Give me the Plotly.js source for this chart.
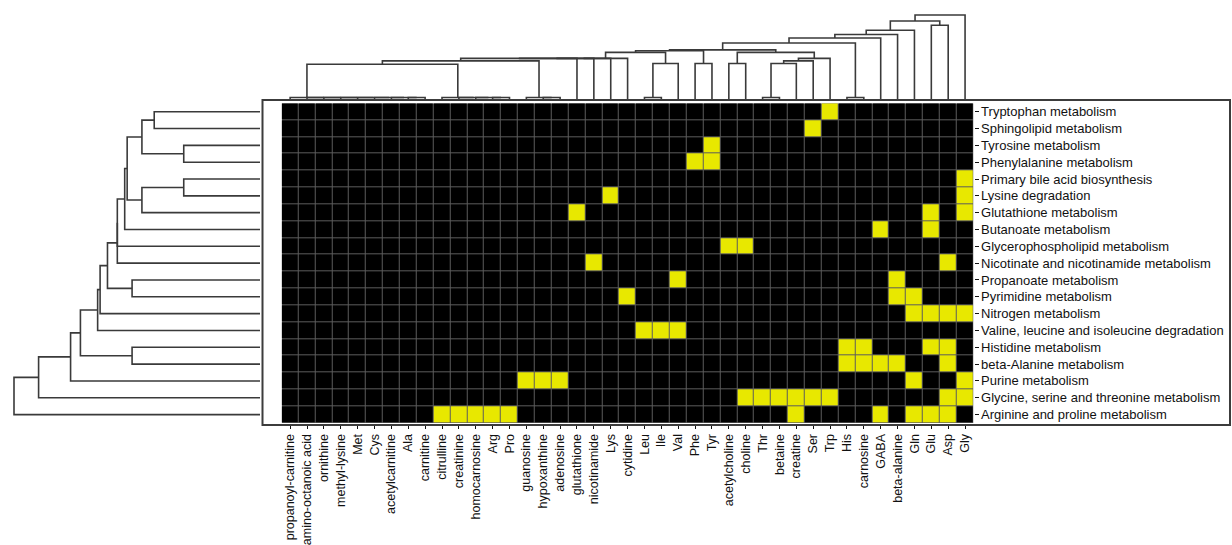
<!DOCTYPE html>
<html>
<head>
<meta charset="utf-8">
<script src="https://cdn.plot.ly/plotly-3.0.1.min.js"></script>
<style>
html,body{margin:0;padding:0;background:#fff;}
#chart{width:1232px;height:545px;}
</style>
</head>
<body>
<div id="chart"></div>
<script>
// ---- data ----
const metabolites = ["propanoyl-carnitine","amino-octanoic acid","ornithine","methyl-lysine","Met","Cys",
  "acetylcarnitine","Ala","carnitine","citrulline","creatinine","homocarnosine","Arg","Pro","guanosine",
  "hypoxanthine","adenosine","glutathione","nicotinamide","Lys","cytidine","Leu","Ile","Val","Phe","Tyr",
  "acetylcholine","choline","Thr","betaine","creatine","Ser","Trp","His","carnosine","GABA","beta-alanine",
  "Gln","Glu","Asp","Gly"];

const pathways = ["Tryptophan metabolism","Sphingolipid metabolism","Tyrosine metabolism",
  "Phenylalanine metabolism","Primary bile acid biosynthesis","Lysine degradation","Glutathione metabolism",
  "Butanoate metabolism","Glycerophospholipid metabolism","Nicotinate and nicotinamide metabolism",
  "Propanoate metabolism","Pyrimidine metabolism","Nitrogen metabolism",
  "Valine, leucine and isoleucine degradation","Histidine metabolism","beta-Alanine metabolism",
  "Purine metabolism","Glycine, serine and threonine metabolism","Arginine and proline metabolism"];

const pathwayMembers = [
  ["Trp"],
  ["Ser"],
  ["Tyr"],
  ["Phe","Tyr"],
  ["Gly"],
  ["Lys","Gly"],
  ["glutathione","Glu","Gly"],
  ["GABA","Glu"],
  ["acetylcholine","choline"],
  ["nicotinamide","Asp"],
  ["Val","beta-alanine"],
  ["cytidine","beta-alanine","Gln"],
  ["Gln","Glu","Asp","Gly"],
  ["Leu","Ile","Val"],
  ["His","carnosine","Glu","Asp"],
  ["His","carnosine","GABA","beta-alanine","Asp"],
  ["guanosine","hypoxanthine","adenosine","Gln","Gly"],
  ["choline","Thr","betaine","creatine","Ser","Trp","Asp","Gly"],
  ["citrulline","creatinine","homocarnosine","Arg","Pro","creatine","GABA","Gln","Glu","Asp"]
];

// column dendrogram merges: [childA, childB, height]; ids >= 41 are earlier merges
const colMerges = [
  [7,8,0.03],[6,41,0.03],[5,42,0.03],[4,43,0.03],[3,44,0.03],[2,45,0.03],[1,46,0.03],[0,47,0.03],
  [12,13,0.03],[11,49,0.03],[10,50,0.03],[9,51,0.03],
  [48,52,0.42],
  [15,16,0.03],[14,54,0.03],
  [53,55,0.46],
  [56,17,0.49],[57,18,0.49],[58,19,0.49],[59,20,0.49],
  [21,22,0.03],[61,23,0.43],
  [60,62,0.56],
  [24,25,0.43],
  [63,64,0.58],
  [26,27,0.43],
  [28,29,0.03],[67,30,0.43],[68,31,0.46],[69,32,0.49],
  [66,70,0.56],
  [65,71,0.59],
  [33,34,0.03],
  [72,73,0.67],
  [74,35,0.73],
  [75,36,0.77],
  [76,37,0.82],
  [38,39,0.88],
  [77,78,0.93],
  [79,40,1.00]
];

// row dendrogram merges: ids >= 19 are earlier merges
const rowMerges = [
  [0,1,0.43],[2,3,0.31],[19,20,0.48],
  [4,5,0.31],[22,6,0.48],
  [21,23,0.54],
  [24,7,0.55],
  [25,8,0.58],[26,9,0.58],
  [10,11,0.52],
  [27,28,0.62],
  [29,12,0.65],
  [30,13,0.66],
  [14,15,0.52],
  [31,32,0.73],
  [33,16,0.77],
  [34,17,0.90],
  [35,18,1.00]
];

// ---- build ----
const z = pathways.map((p,i) => metabolites.map(m => pathwayMembers[i].includes(m) ? 1 : 0));

function dendroSegments(nLeaves, merges){
  const pos = [], hgt = [];
  for (let i=0;i<nLeaves;i++){ pos.push(i); hgt.push(0); }
  const a = [], b = [];
  merges.forEach(([p,q,h]) => {
    a.push(pos[p], pos[p], pos[q], pos[q], null);
    b.push(hgt[p], h, h, hgt[q], null);
    pos.push((pos[p]+pos[q])/2);
    hgt.push(h);
  });
  return {pos:a, h:b};
}

const W = 1232, H = 545;
const hx0 = 281.7/W, hx1 = 973.5/W;
const hy0 = 1-423/H, hy1 = 1-103.3/H;
const font = {family:"Liberation Sans, Arial, sans-serif", size:13, color:"#111"};
const xfont = {family:"Liberation Sans, Arial, sans-serif", size:12.5, color:"#111"};
const lineStyle = {color:"#3a3a3a", width:1.6};

const colD = dendroSegments(metabolites.length, colMerges);
const rowD = dendroSegments(pathways.length, rowMerges);

const traces = [
  {
    type:"heatmap", z:z, xaxis:"x", yaxis:"y",
    colorscale:[[0,"#000000"],[1,"#e8e800"]], zmin:0, zmax:1,
    showscale:false, xgap:1, ygap:1, hoverinfo:"skip"
  },
  {
    type:"scatter", mode:"lines", x:colD.pos, y:colD.h, xaxis:"x2", yaxis:"y2",
    line:lineStyle, hoverinfo:"skip", showlegend:false
  },
  {
    type:"scatter", mode:"lines", x:rowD.h, y:rowD.pos, xaxis:"x3", yaxis:"y3",
    line:lineStyle, hoverinfo:"skip", showlegend:false
  }
];

const hidden = {visible:false, showgrid:false, zeroline:false, fixedrange:true};
const nC = metabolites.length, nR = pathways.length;

const layout = {
  width:W, height:H,
  margin:{l:0,r:0,t:0,b:0},
  paper_bgcolor:"#ffffff", plot_bgcolor:"rgba(0,0,0,0)",
  showlegend:false,
  font:font,
  xaxis:{domain:[hx0,hx1], range:[-0.5,nC-0.5], anchor:"y",
    tickmode:"array", tickvals:metabolites.map((_,i)=>i), ticktext:metabolites,
    tickangle:-90, ticks:"outside", ticklen:5, tickwidth:1, tickcolor:"#111",
    showgrid:false, zeroline:false, showline:false, tickfont:xfont},
  yaxis:{domain:[hy0,hy1], range:[nR-0.5,-0.5], anchor:"x", side:"right",
    tickmode:"array", tickvals:pathways.map((_,i)=>i), ticktext:pathways,
    ticks:"outside", ticklen:4, tickwidth:1, tickcolor:"#111",
    showgrid:false, zeroline:false, showline:false, tickfont:font},
  xaxis2:Object.assign({domain:[hx0,hx1], range:[-0.5,nC-0.5], anchor:"y2"}, hidden),
  yaxis2:Object.assign({domain:[1-100/H,1], range:[0,100/85], anchor:"x2"}, hidden),
  xaxis3:Object.assign({domain:[0,260/W], range:[260/246,0], anchor:"y3"}, hidden),
  yaxis3:Object.assign({domain:[hy0,hy1], range:[nR-0.5,-0.5], anchor:"x3"}, hidden),
  shapes:[
    {type:"rect", xref:"x", yref:"y", x0:-0.5, x1:nC-0.5, y0:-0.5, y1:nR-0.5,
     fillcolor:"#5c5c5c", line:{width:0}, layer:"below"},
    {type:"rect", xref:"paper", yref:"paper", x0:262.5/W, x1:1230/W, y0:1-425/H, y1:1-100/H,
     fillcolor:"rgba(0,0,0,0)", line:{color:"#3c3c3c", width:2}, layer:"above"}
  ]
};

Plotly.newPlot("chart", traces, layout, {displayModeBar:false, staticPlot:true});
</script>
</body>
</html>
